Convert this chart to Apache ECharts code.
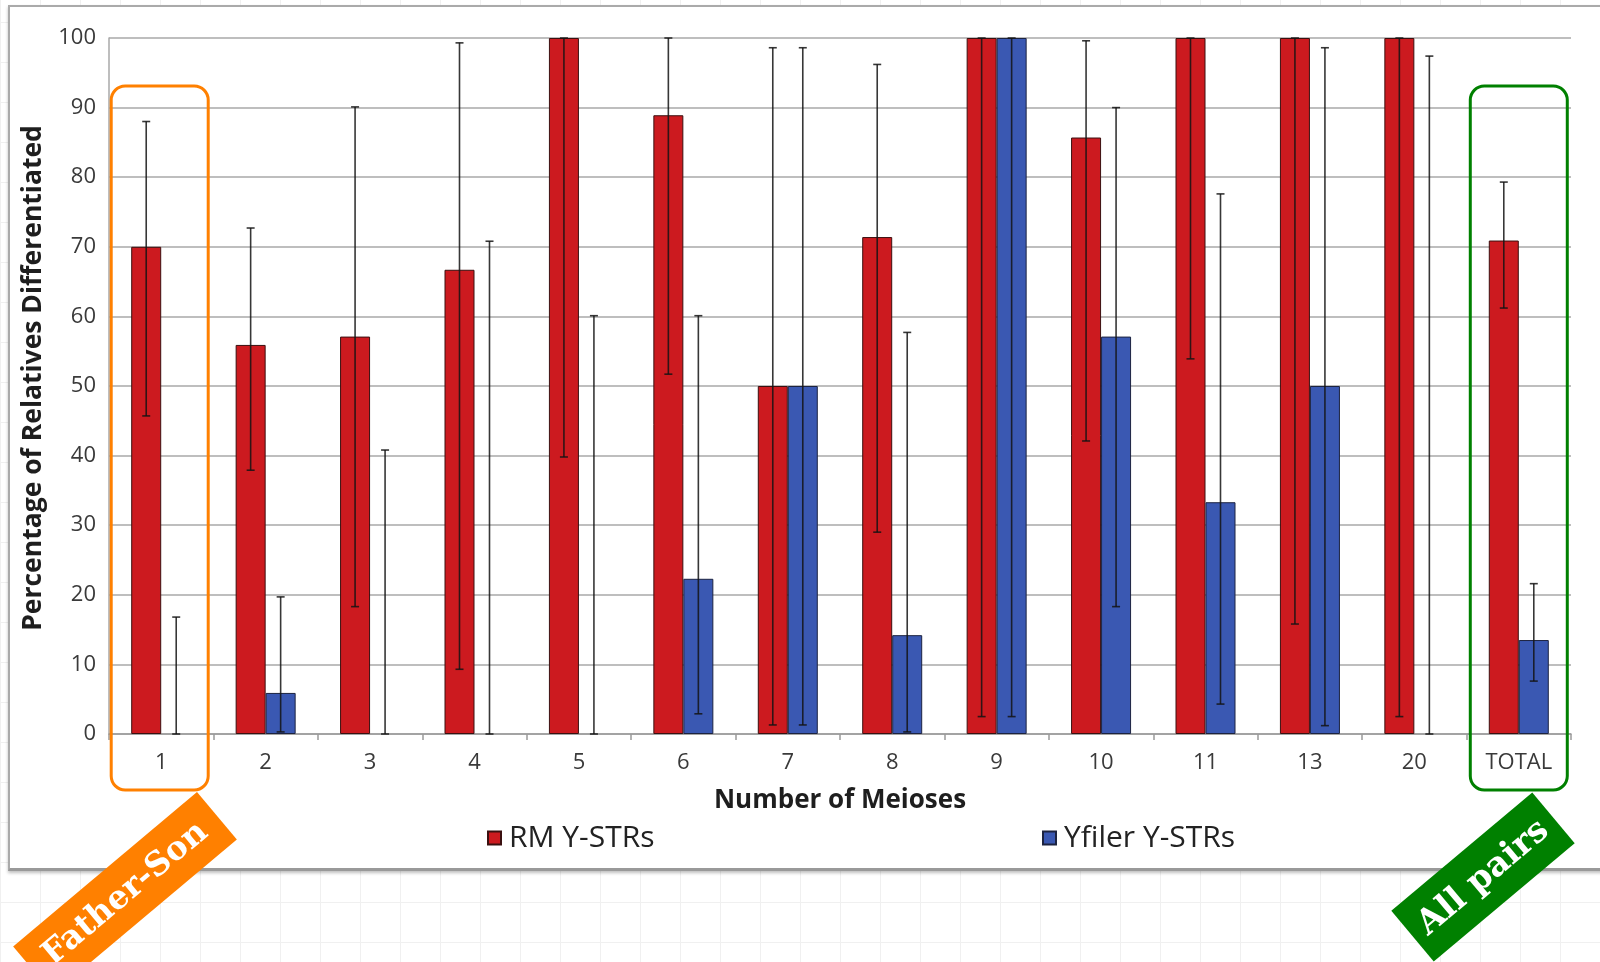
<!DOCTYPE html>
<html><head><meta charset="utf-8">
<script src="https://cdn.jsdelivr.net/npm/echarts@6/dist/echarts.min.js"></script>
<style>
html,body{margin:0;padding:0;width:1600px;height:962px;overflow:hidden;
background-color:#fff;
background-image:linear-gradient(#f0f0f0 1px, transparent 1px),linear-gradient(90deg,#f0f0f0 1px, transparent 1px);
background-size:40px 40px;background-position:0 22px;}
#frame{position:absolute;left:8px;top:5px;width:1600px;height:861px;background:#fff;border-top:2px solid #aaa;border-left:2px solid #aaa;border-bottom:3px solid #999;box-shadow:0 2px 3px rgba(0,0,0,0.25);}
#chart{position:absolute;left:0;top:0;width:1600px;height:962px;}
</style></head><body>
<div id="frame"></div><div id="chart"></div>
<script>
// ---- data ----
const categories = ['1','2','3','4','5','6','7','8','9','10','11','13','20','TOTAL'];
const seriesNames = ['RM Y-STRs','Yfiler Y-STRs'];
const rmValues = [70, 55.9, 57.1, 66.7, 100, 88.9, 50, 71.4, 100, 85.7, 100, 100, 100, 70.9];
const rmLow    = [45.7, 37.9, 18.3, 9.3, 39.8, 51.7, 1.3, 29.0, 2.5, 42.1, 53.9, 15.8, 2.5, 61.2];
const rmHigh   = [88.0, 72.7, 90.1, 99.3, 100, 100, 98.6, 96.2, 100, 99.6, 100, 100, 100, 79.3];
const yfValues = [0, 5.9, 0, 0, 0, 22.3, 50, 14.2, 100, 57.1, 33.3, 50, 0, 13.5];
const yfLow    = [0, 0.3, 0, 0, 0, 2.9, 1.3, 0.3, 2.5, 18.3, 4.3, 1.2, 0, 7.6];
const yfHigh   = [16.8, 19.7, 40.8, 70.8, 60.1, 60.1, 98.6, 57.7, 100, 90.0, 77.6, 98.6, 97.4, 21.6];
const yTicks = {min: 0, max: 100, interval: 10};
const annotations = ['Father-Son', 'All pairs'];

// ---- style ----
const BAR_W = 30;
const RED = '#CC1A1F', BLUE = '#3A58B2';
const FONT = '"Open Sans", "DejaVu Sans", sans-serif';

function barData(values) {
  // a zero-height bar draws nothing (no outline)
  return values.map(v => v === 0 ? {value: v, itemStyle: {borderWidth: 0}} : v);
}

function errRender(offset) {
  return function (params, api) {
    const i = api.value(0);
    const lo = api.coord([i, api.value(1)]);
    const hi = api.coord([i, api.value(2)]);
    const x = lo[0] + offset;
    const cap = 4;
    const st = {stroke: '#141414', lineWidth: 1.6, opacity: 0.85};
    return {type: 'group', children: [
      {type: 'line', shape: {x1: x, y1: lo[1], x2: x, y2: hi[1]}, style: st},
      {type: 'line', shape: {x1: x - cap, y1: hi[1], x2: x + cap, y2: hi[1]}, style: st},
      {type: 'line', shape: {x1: x - cap, y1: lo[1], x2: x + cap, y2: lo[1]}, style: st}
    ]};
  };
}

const chart = echarts.init(document.getElementById('chart'), null, {renderer: 'canvas'});
const legendText = {fontSize: 30, color: '#222', fontFamily: FONT, padding: [0, 0, 0, 3]};
chart.setOption({
  backgroundColor: 'transparent',
  animation: false,
  grid: {left: 109, right: 29, top: 38, bottom: 228},
  legend: [
    {data: [seriesNames[0]], left: 482, top: 818, icon: 'rect', itemWidth: 13, itemHeight: 13, itemGap: 0, textStyle: legendText},
    {data: [seriesNames[1]], left: 1037, top: 818, icon: 'rect', itemWidth: 13, itemHeight: 13, itemGap: 0, textStyle: legendText}
  ],
  xAxis: {
    type: 'category', data: categories,
    name: 'Number of Meioses', nameLocation: 'middle', nameGap: 54,
    nameTextStyle: {fontSize: 26, fontWeight: 'bold', color: '#1e1e1e', fontFamily: FONT},
    axisLine: {lineStyle: {color: '#9a9a9a', width: 1.5}},
    axisTick: {show: true, length: 6, lineStyle: {color: '#9a9a9a', width: 1.5}},
    axisLabel: {fontSize: 22, color: '#3a3a3a', margin: 18, fontFamily: FONT}
  },
  yAxis: {
    type: 'value', min: yTicks.min, max: yTicks.max, interval: yTicks.interval,
    name: 'Percentage of Relatives Differentiated', nameLocation: 'middle', nameGap: 48,
    nameTextStyle: {fontSize: 26.5, fontWeight: 'bold', color: '#1e1e1e', fontFamily: FONT, padding: [0, 0, 0, 16]},
    axisLine: {show: true, lineStyle: {color: '#a8a8a8', width: 1.5}},
    axisTick: {show: false},
    splitLine: {lineStyle: {color: '#a8a8a8', width: 1.5}},
    axisLabel: {fontSize: 22, color: '#3a3a3a', margin: 13, fontFamily: FONT}
  },
  series: [
    {name: seriesNames[0], type: 'bar', data: barData(rmValues), barWidth: BAR_W, barGap: '0%',
     itemStyle: {color: RED, borderColor: '#3a1010', borderWidth: 1}},
    {name: seriesNames[1], type: 'bar', data: barData(yfValues), barWidth: BAR_W, barGap: '0%',
     itemStyle: {color: BLUE, borderColor: '#1c2340', borderWidth: 1}},
    {type: 'custom', name: 'errRM', renderItem: errRender(-BAR_W / 2), z: 5,
     encode: {x: 0, y: [1, 2]},
     data: categories.map((c, i) => [i, rmLow[i], rmHigh[i]])},
    {type: 'custom', name: 'errYF', renderItem: errRender(BAR_W / 2), z: 5,
     encode: {x: 0, y: [1, 2]},
     data: categories.map((c, i) => [i, yfLow[i], yfHigh[i]])}
  ]
});

// annotation boxes and banners tied to first and last categories
const xFirst = chart.convertToPixel({xAxisIndex: 0}, 0);
const xLast = chart.convertToPixel({xAxisIndex: 0}, categories.length - 1);
const BOX_W = 97, BOX_TOP = 86, BOX_BOTTOM = 790;
const ang = 40 * Math.PI / 180;
function banner(cx, cy, len, h, color, text, fs) {
  return {type: 'group', x: cx, y: cy, rotation: ang, z: 100, children: [
    {type: 'rect', shape: {x: -len / 2, y: -h / 2, width: len, height: h}, style: {fill: color}},
    {type: 'text', style: {text: text, x: 0, y: 1, textAlign: 'center', textVerticalAlign: 'middle',
      fill: '#fff', font: 'bold ' + fs + 'px "DejaVu Serif", serif'}}
  ]};
}
chart.setOption({
  graphic: [
    {type: 'rect', z: 100, shape: {x: xFirst - 1.5 - BOX_W / 2, y: BOX_TOP, width: BOX_W, height: BOX_BOTTOM - BOX_TOP, r: 14},
     style: {fill: 'none', stroke: '#FF8000', lineWidth: 3}},
    {type: 'rect', z: 100, shape: {x: xLast - BOX_W / 2, y: BOX_TOP, width: BOX_W, height: BOX_BOTTOM - BOX_TOP, r: 14},
     style: {fill: 'none', stroke: '#008000', lineWidth: 3}},
    banner(125, 893, 240, 62, '#FF8000', annotations[0], 33),
    banner(1483, 877, 184, 66, '#008000', annotations[1], 34)
  ]
});
</script>
</body></html>
